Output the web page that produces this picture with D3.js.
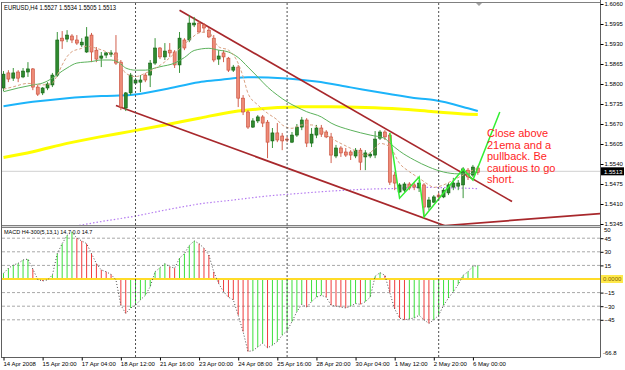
<!DOCTYPE html>
<html lang="en">
<head>
<meta charset="UTF-8">
<title>EURUSD H4</title>
<style>
  html, body { margin: 0; padding: 0; background: #fff; }
  svg { display: block; }
  text { font-family: "Liberation Sans", Arial, sans-serif; }
</style>
</head>
<body>
<div id="chart"></div>
<script src="https://d3js.org/d3.v7.min.js"></script>
<script>
// EURUSD H4 bars, oldest first (14 Apr 2008 .. 6 May 2008)
const open = [1.5787,1.5836,1.5819,1.5839,1.5823,1.5839,1.5849,1.5790,1.5771,1.5787,
  1.5797,1.5829,1.5949,1.5946,1.5956,1.5943,1.5927,1.5904,1.5959,1.5910,
  1.5884,1.5894,1.5897,1.5901,1.5871,1.5722,1.5771,1.5803,1.5806,1.5829,
  1.5829,1.5868,1.5917,1.5888,1.5910,1.5904,1.5862,1.5943,1.5943,1.5992,
  1.5998,1.5992,1.5975,1.5949,1.5881,1.5901,1.5884,1.5845,1.5855,1.5754,
  1.5709,1.5660,1.5680,1.5693,1.5676,1.5615,1.5641,1.5631,1.5621,1.5611,
  1.5634,1.5660,1.5683,1.5608,1.5634,1.5657,1.5644,1.5628,1.5566,1.5592,
  1.5579,1.5579,1.5566,1.5585,1.5563,1.5566,1.5569,1.5624,1.5644,1.5634,
  1.5504,1.5449,1.5455,1.5475,1.5472,1.5462,1.5472,1.5400,1.5416,1.5439,
  1.5433,1.5446,1.5465,1.5468,1.5472,1.5520,1.5504,1.5527];
const high = [1.5842,1.5845,1.5852,1.5845,1.5852,1.5871,1.5852,1.5797,1.5790,1.5806,
  1.5836,1.5969,1.5972,1.5975,1.5962,1.5959,1.5949,1.5985,1.5966,1.5920,
  1.5904,1.5904,1.5910,1.5959,1.5878,1.5774,1.5836,1.5819,1.5829,1.5836,
  1.5878,1.5949,1.5920,1.5933,1.5933,1.5910,1.5969,1.5949,1.6024,1.6018,
  1.6005,1.5998,1.5982,1.5959,1.5910,1.5910,1.5888,1.5862,1.5862,1.5764,
  1.5715,1.5689,1.5699,1.5699,1.5683,1.5657,1.5673,1.5641,1.5628,1.5644,
  1.5670,1.5693,1.5689,1.5657,1.5667,1.5667,1.5650,1.5641,1.5602,1.5598,
  1.5592,1.5585,1.5592,1.5592,1.5585,1.5579,1.5647,1.5650,1.5650,1.5641,
  1.5514,1.5478,1.5481,1.5481,1.5478,1.5488,1.5478,1.5433,1.5439,1.5446,
  1.5462,1.5478,1.5495,1.5488,1.5530,1.5527,1.5537,1.5534];
const low = [1.5777,1.5806,1.5810,1.5806,1.5819,1.5823,1.5780,1.5761,1.5764,1.5780,
  1.5790,1.5823,1.5914,1.5936,1.5933,1.5927,1.5920,1.5901,1.5871,1.5871,
  1.5855,1.5884,1.5888,1.5862,1.5715,1.5712,1.5764,1.5797,1.5774,1.5806,
  1.5790,1.5862,1.5881,1.5878,1.5888,1.5852,1.5836,1.5910,1.5936,1.5985,
  1.5966,1.5966,1.5949,1.5871,1.5862,1.5871,1.5839,1.5839,1.5725,1.5699,
  1.5654,1.5657,1.5673,1.5660,1.5559,1.5592,1.5611,1.5585,1.5611,1.5608,
  1.5628,1.5650,1.5595,1.5595,1.5624,1.5628,1.5624,1.5543,1.5559,1.5563,
  1.5563,1.5553,1.5559,1.5520,1.5520,1.5559,1.5559,1.5618,1.5618,1.5472,
  1.5455,1.5446,1.5449,1.5455,1.5455,1.5449,1.5368,1.5390,1.5413,1.5423,
  1.5429,1.5439,1.5455,1.5455,1.5429,1.5488,1.5498,1.5505];
const close = [1.5832,1.5816,1.5836,1.5819,1.5842,1.5849,1.5790,1.5767,1.5787,1.5800,
  1.5829,1.5943,1.5940,1.5959,1.5943,1.5933,1.5936,1.5953,1.5904,1.5881,
  1.5891,1.5901,1.5901,1.5868,1.5725,1.5771,1.5829,1.5813,1.5813,1.5813,
  1.5868,1.5917,1.5888,1.5907,1.5901,1.5862,1.5949,1.5917,1.5998,1.5998,
  1.5969,1.5982,1.5953,1.5878,1.5891,1.5888,1.5845,1.5855,1.5754,1.5709,
  1.5660,1.5680,1.5693,1.5673,1.5611,1.5641,1.5618,1.5615,1.5618,1.5634,
  1.5660,1.5683,1.5608,1.5637,1.5657,1.5637,1.5628,1.5569,1.5592,1.5576,
  1.5569,1.5569,1.5585,1.5546,1.5576,1.5572,1.5621,1.5644,1.5628,1.5481,
  1.5478,1.5472,1.5475,1.5462,1.5465,1.5478,1.5400,1.5423,1.5433,1.5433,
  1.5455,1.5472,1.5478,1.5478,1.5524,1.5498,1.5530,1.5513];

// MACD(5,13,1) histogram, one value per bar
const macd = [6.3,11.8,15.4,17.3,21,22,11,-0.5,-2.2,-1,
  4.4,28,39,48,52,45,42,39,28,17,
  10,8,5,-1,-29,-38,-32,-29,-23,-18,
  -8.5,8,12.5,17,13.5,12,23,28,37,42,
  39,34,26.5,8,-5,-14,-20,-23,-40,-58,
  -80,-79,-75,-71,-76,-73,-69,-62,-57,-47,
  -36,-28,-31,-25,-20,-18,-20,-29,-30,-31,
  -32,-30,-27,-28,-25,-20,3,7,4,-15,
  -33,-43,-45,-44,-43,-40,-45,-49,-45,-40,
  -29,-21,-14,-6,4,8,14,14.7];

// moving averages: [bar index, price]
const emaFast = [[0,1.5783],[2,1.5791],[5,1.5802],[8,1.5797],[10,1.5803],[11,1.5829],[12,1.5862],[13,1.5889],
  [14,1.5905],[16,1.5916],[17,1.5923],[19,1.5916],[21,1.5905],[23,1.5889],[24,1.5862],[25,1.5835],[27,1.5824],
  [29,1.5835],[31,1.5851],[33,1.5872],[35,1.5900],[38,1.5943],[40,1.5966],[42,1.5970],[43,1.5943],[44,1.5921],
  [46,1.5910],[48,1.5867],[49,1.5824],[50,1.5770],[52,1.5732],[54,1.5705],[56,1.5683],[57,1.5667],[59,1.5656],
  [61,1.5667],[63,1.5667],[67,1.5624],[71,1.5591],[74,1.5569],[76,1.5591],[77,1.5607],[79,1.5596],[81,1.5542],
  [83,1.5515],[85,1.5494],[87,1.5472],[88,1.5464],[90,1.5472],[92,1.5488],[94,1.5504],[96,1.5520],[97,1.5527]];
const ema21 = [[0,1.5775],[3,1.5787],[6,1.5797],[8,1.5803],[10,1.5819],[12,1.5842],[13,1.5852],[15,1.5868],
  [18,1.5873],[20,1.5878],[22,1.5878],[24,1.5865],[25,1.5852],[27,1.5845],[29,1.5845],[31,1.5852],[32,1.5856],
  [35,1.5868],[37,1.5886],[39,1.5909],[42,1.5916],[44,1.5910],[46,1.5904],[48,1.5886],[50,1.5855],[52,1.5823],
  [54,1.5790],[56,1.5764],[58,1.5742],[60,1.5725],[62,1.5710],[65,1.5693],[67,1.5673],[71,1.5650],[75,1.5634],
  [78,1.5623],[79,1.5608],[81,1.5582],[84,1.5553],[87,1.5530],[90,1.5514],[93,1.5508],[95,1.5508],[97,1.5514]];
const maBlue = [[0,1.5728],[6,1.5742],[13,1.5754],[20,1.5761],[26,1.5764],[33,1.5783],[40,1.5806],[44,1.5813],
  [47,1.5819],[50,1.5822],[57,1.5819],[64,1.5808],[71,1.5789],[78,1.5770],[85,1.5753],[88,1.5748],[95,1.5721],[97,1.5712]];
const maYellow = [[0,1.5561],[6,1.5580],[13,1.5607],[20,1.5629],[26,1.5646],[33,1.5667],[40,1.5689],[47,1.5710],
  [54,1.5721],[61,1.5726],[67,1.5726],[74,1.5724],[81,1.5719],[88,1.5710],[95,1.5702],[97,1.5701]];
const maPurple = [[0,1.5295],[16,1.5342],[20,1.5353],[27,1.5371],[33,1.5390],[40,1.5410],[47,1.5423],[54,1.5436],
  [61,1.5445],[67,1.5452],[74,1.5458],[81,1.5461],[85,1.5464],[97,1.5460]];

// hand drawn objects: [bar index, price]
const channelTop = [[36,1.6040],[104,1.5418]];
const channelBottom = [[23,1.5730],[122,1.5155]];
const supportLine = [[80,1.5327],[122,1.5379]];
const zigzag = [[79,1.5641],[81,1.5429],[85,1.5498],[86,1.5368],[94,1.5524],[96,1.5488],[101.5,1.5709]];
const note = ["Close above", "21ema and a", "pullback. Be", "cautious to go", "short."];

// axes
const priceTicks = [1.6060,1.5995,1.5930,1.5865,1.5800,1.5735,1.5670,1.5605,1.5540,1.5475,1.5410,1.5345];
const macdTicks = [45,30,15,-15,-30,-45];
const weekStarts = [27,58,89];
const timeTickIdx = [0,8,16,24,32,40,48,56,64,72,80,88,96];
const timeLabels = ["14 Apr 2008","15 Apr 20:00","17 Apr 04:00","18 Apr 12:00","21 Apr 16:00","23 Apr 00:00",
  "24 Apr 08:00","25 Apr 16:00","28 Apr 20:00","30 Apr 04:00","1 May 12:00","2 May 20:00","6 May 00:00"];
const lastPrice = 1.5513;

const width = 625, height = 370;
const svg = d3.select("#chart").append("svg").attr("width", width).attr("height", height);

// scales
const x = d3.scaleLinear().domain([0, 97]).range([3.5, 477.8]);
const y = d3.scaleLinear().domain([1.5345, 1.6060]).range([224, 4]);
const ym = d3.scaleLinear().domain([-45, 45]).range([319.8, 238.2]);

const defs = svg.append("defs");
defs.append("clipPath").attr("id", "clipMain").append("rect").attr("x", 2).attr("y", 3).attr("width", 598).attr("height", 222);
defs.append("clipPath").attr("id", "clipMacd").append("rect").attr("x", 2).attr("y", 228).attr("width", 598).attr("height", 129);

// frame
svg.append("rect").attr("x", 0).attr("y", 0).attr("width", width).attr("height", height).attr("fill", "#fff");
svg.append("rect").attr("x", 1.5).attr("y", 225).attr("width", 599).attr("height", 3).attr("fill", "#d8d8d8");
svg.append("line").attr("x1", 1.5).attr("x2", 600.5).attr("y1", 2.5).attr("y2", 2.5).attr("stroke", "#808080");
svg.append("line").attr("x1", 1.5).attr("x2", 600.5).attr("y1", 225.5).attr("y2", 225.5).attr("stroke", "#808080");
svg.append("line").attr("x1", 1.5).attr("x2", 600.5).attr("y1", 227.5).attr("y2", 227.5).attr("stroke", "#808080");
svg.append("line").attr("x1", 1.5).attr("x2", 600.5).attr("y1", 357.5).attr("y2", 357.5).attr("stroke", "#606060");
svg.append("line").attr("x1", 1.5).attr("x2", 1.5).attr("y1", 2).attr("y2", 358).attr("stroke", "#606060");

const main = svg.append("g").attr("clip-path", "url(#clipMain)");
const sub = svg.append("g").attr("clip-path", "url(#clipMacd)");

// week separators
weekStarts.forEach(i => {
  svg.append("line").attr("x1", x(i)).attr("x2", x(i)).attr("y1", 3).attr("y2", 357)
    .attr("stroke", "#505050").attr("stroke-dasharray", "2,2");
});

// bid line
main.append("line").attr("x1", 2).attr("x2", 600).attr("y1", y(lastPrice) - 1).attr("y2", y(lastPrice) - 1)
  .attr("stroke", "#d0d0d0");

const line = d3.line().x(d => x(d[0])).y(d => y(d[1])).curve(d3.curveMonotoneX);
const straight = d3.line().x(d => x(d[0])).y(d => y(d[1]));

// long moving averages
main.append("path").attr("d", line(maPurple)).attr("fill", "none").attr("stroke", "#b57cf0")
  .attr("stroke-width", 1.2).attr("stroke-dasharray", "1.5,2");
main.append("path").attr("d", line(maYellow)).attr("fill", "none").attr("stroke", "#ffff00").attr("stroke-width", 3);
main.append("path").attr("d", line(maBlue)).attr("fill", "none").attr("stroke", "#1cb4fa").attr("stroke-width", 2);

// trend lines
[channelTop, channelBottom, supportLine].forEach(t => {
  main.append("path").attr("d", straight(t)).attr("fill", "none").attr("stroke", "#a8282c").attr("stroke-width", 1.7);
});

// candles
const bars = d3.range(open.length);
main.selectAll(".wick").data(bars).enter().append("line")
  .attr("x1", i => x(i)).attr("x2", i => x(i))
  .attr("y1", i => y(high[i])).attr("y2", i => y(low[i]))
  .attr("stroke", i => close[i] >= open[i] ? "#3c963c" : "#d2604e");
main.selectAll(".body").data(bars).enter().append("rect")
  .attr("x", i => x(i) - 1.5).attr("width", 3)
  .attr("y", i => y(Math.max(open[i], close[i])))
  .attr("height", i => Math.max(1, Math.abs(y(open[i]) - y(close[i]))))
  .attr("fill", i => close[i] >= open[i] ? "#2f8a2f" : "#ee8a76")
  .attr("stroke", i => close[i] >= open[i] ? "#0f5f0f" : "#c54a38")
  .attr("stroke-width", 0.6);

// short averages
main.append("path").attr("d", line(ema21)).attr("fill", "none").attr("stroke", "#5cb25c").attr("stroke-width", 1);
main.append("path").attr("d", line(emaFast)).attr("fill", "none").attr("stroke", "#d9a283")
  .attr("stroke-width", 1).attr("stroke-dasharray", "3,2");

// zigzag
main.append("path").attr("d", straight(zigzag)).attr("fill", "none").attr("stroke", "#33ee33").attr("stroke-width", 1.5);

// annotation
const noteText = svg.append("text").attr("x", 487).attr("y", 137).attr("fill", "#ff1e1e").attr("font-size", 11);
note.forEach((t, k) => noteText.append("tspan").attr("x", 487).attr("dy", k ? 11.6 : 0).text(t));

// header
svg.append("text").attr("x", 4).attr("y", 9.5).attr("font-size", 6.5).attr("fill", "#000")
  .attr("textLength", 112).attr("lengthAdjust", "spacingAndGlyphs")
  .text("EURUSD,H4  1.5527 1.5534 1.5505 1.5513");

// chart shift marker
svg.append("path").attr("d", "M476,3 L482,3 L479,6 Z").attr("fill", "#a0a0a0");

// price axis
const pAxis = svg.append("g").attr("transform", "translate(600.5,0)")
  .call(d3.axisRight(y).tickValues(priceTicks).tickSize(3).tickFormat(d3.format(".4f")));
pAxis.select(".domain").attr("stroke", "#606060").attr("d", "M0,0V357");
pAxis.selectAll("text").attr("font-size", 6).attr("x", 4).attr("fill", "#000")
  .attr("font-family", "Liberation Sans, Arial, sans-serif");

// last price box
svg.append("rect").attr("x", 601).attr("y", y(lastPrice) - 5).attr("width", 23).attr("height", 8).attr("fill", "#000");
svg.append("text").attr("x", 604).attr("y", y(lastPrice) + 1.2).attr("font-size", 6).attr("fill", "#fff").text("1.5513");

// MACD window
sub.selectAll(".grid").data(macdTicks).enter().append("line")
  .attr("x1", 2).attr("x2", 600).attr("y1", d => ym(d)).attr("y2", d => ym(d))
  .attr("stroke", "#a8a8a8").attr("stroke-dasharray", "3,2");
sub.selectAll(".hist").data(bars).enter().append("line")
  .attr("x1", i => x(i)).attr("x2", i => x(i))
  .attr("y1", ym(0)).attr("y2", i => ym(macd[i]))
  .attr("stroke", i => (i === 0 || macd[i] >= macd[i - 1]) ? "#3ce03c" : "#f03c3c");
sub.append("line").attr("x1", 2).attr("x2", 600).attr("y1", ym(0)).attr("y2", ym(0))
  .attr("stroke", "#ffdc28").attr("stroke-width", 2);
sub.append("path").attr("d", d3.line().x((d, i) => x(i)).y(d => ym(d))(macd))
  .attr("fill", "none").attr("stroke", "#505050").attr("stroke-dasharray", "1,2");

svg.append("text").attr("x", 4).attr("y", 233.5).attr("font-size", 5.5).attr("fill", "#000")
  .text("MACD H4-300(5,13,1) 14.7 0.0 14.7");

const mAxis = svg.append("g").attr("transform", "translate(600.5,0)")
  .call(d3.axisRight(ym).tickValues(macdTicks).tickSize(3).tickFormat(d3.format("d")));
mAxis.select(".domain").remove();
mAxis.selectAll("text").attr("font-size", 6).attr("x", 4).attr("fill", "#000")
  .attr("font-family", "Liberation Sans, Arial, sans-serif");
svg.append("text").attr("x", 604).attr("y", 232).attr("font-size", 6).text("50");
svg.append("text").attr("x", 603).attr("y", 355).attr("font-size", 6).text("-66.8");
svg.append("rect").attr("x", 601).attr("y", ym(0) - 4).attr("width", 22).attr("height", 8).attr("fill", "#ffe94a");
svg.append("text").attr("x", 603).attr("y", ym(0) + 2).attr("font-size", 6).attr("fill", "#806000").text("0.0000");

// time axis
const tAxis = svg.append("g").attr("transform", "translate(0,357.5)")
  .call(d3.axisBottom(x).tickValues(timeTickIdx).tickSize(3).tickFormat((d, i) => timeLabels[i]));
tAxis.select(".domain").remove();
tAxis.selectAll("text").attr("font-size", 6).attr("text-anchor", "start").attr("dx", -0.5).attr("y", 4)
  .attr("fill", "#000").attr("font-family", "Liberation Sans, Arial, sans-serif");
</script>
</body>
</html>
